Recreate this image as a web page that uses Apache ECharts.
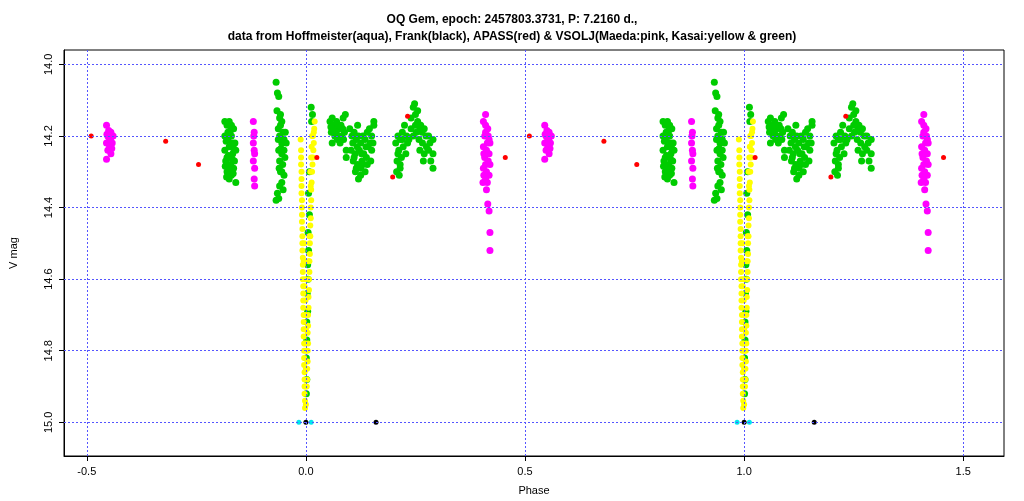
<!DOCTYPE html><html><head><meta charset="utf-8"><script src="https://cdn.jsdelivr.net/npm/echarts@6/dist/echarts.min.js"></script></head><body style="margin:0"><div id="c" style="width:1024px;height:501px"></div><script>
const xTicks=[-0.5,0,0.5,1,1.5];
const yTicks=[14.0,14.2,14.4,14.6,14.8,15.0];
// one cycle of data (phase, V mag); plotted again at phase+1
const greenPts=[
[-0.185,14.16],[-0.18,14.17],[-0.175,14.16],[-0.17,14.17],[-0.165,14.18],[-0.185,14.2],[-0.178,14.21],[-0.17,14.2],[-0.162,14.22],[-0.185,14.24],[-0.175,14.23],[-0.167,14.25],[-0.16,14.24],[-0.183,14.27],[-0.172,14.28],[-0.163,14.27],[-0.18,14.3],[-0.17,14.31],[-0.165,14.29],[-0.175,14.32],[-0.16,14.33],[-0.178,14.19],[-0.168,14.22],[-0.18,14.26],[-0.172,14.185],[-0.182,14.215],[-0.165,14.235],[-0.177,14.255],[-0.168,14.265],[-0.184,14.285],[-0.176,14.295],[-0.166,14.305],[-0.181,14.315],
[-0.068,14.05],[-0.065,14.08],[-0.062,14.09],[-0.066,14.13],[-0.06,14.15],[-0.055,14.16],[-0.063,14.18],[-0.052,14.19],[-0.06,14.2],[-0.055,14.22],[-0.05,14.21],[-0.062,14.24],[-0.055,14.25],[-0.05,14.24],[-0.06,14.27],[-0.053,14.28],[-0.058,14.3],[-0.05,14.31],[-0.055,14.33],[-0.06,14.34],[-0.052,14.35],[-0.065,14.36],[-0.068,14.38],[-0.062,14.375],[-0.045,14.22],[-0.047,14.19],[-0.058,14.17],[-0.063,14.21],[-0.057,14.235],[-0.048,14.26],[-0.061,14.29],[-0.055,14.3],[-0.058,14.14],
[0.012,14.12],[0.015,14.14],[0.013,14.16],
[0.055,14.16],[0.06,14.15],[0.065,14.17],[0.07,14.16],[0.075,14.18],[0.08,14.17],[0.085,14.15],[0.058,14.19],[0.066,14.2],[0.072,14.21],[0.082,14.2],[0.088,14.19],[0.06,14.22],[0.078,14.22],[0.09,14.14],[0.092,14.24],[0.092,14.26],[0.063,14.185],[0.069,14.19],[0.076,14.2],[0.084,14.18],[0.057,14.175],[0.073,14.17],[0.086,14.21],
[0.1,14.18],[0.105,14.2],[0.11,14.19],[0.115,14.21],[0.12,14.2],[0.125,14.22],[0.13,14.2],[0.135,14.21],[0.14,14.19],[0.145,14.18],[0.15,14.2],[0.155,14.17],[0.103,14.24],[0.112,14.25],[0.122,14.24],[0.132,14.25],[0.142,14.23],[0.15,14.24],[0.108,14.27],[0.118,14.28],[0.128,14.27],[0.138,14.26],[0.148,14.27],[0.113,14.3],[0.125,14.29],[0.135,14.3],[0.12,14.32],[0.118,14.17],[0.155,14.16],[0.107,14.22],[0.117,14.23],[0.127,14.25],[0.137,14.23],[0.147,14.22],[0.153,14.22],[0.11,14.26],[0.13,14.28],[0.14,14.28],[0.115,14.29],[0.125,14.31],
[0.205,14.22],[0.21,14.2],[0.215,14.21],[0.22,14.19],[0.225,14.17],[0.23,14.2],[0.212,14.24],[0.222,14.23],[0.232,14.22],[0.208,14.27],[0.218,14.26],[0.228,14.25],[0.215,14.29],[0.207,14.3],[0.213,14.31],[0.24,14.15],[0.245,14.12],[0.25,14.14],[0.248,14.11],[0.255,14.16],[0.26,14.18],[0.245,14.2],[0.252,14.19],[0.262,14.17],[0.27,14.18],[0.258,14.21],[0.266,14.22],[0.274,14.2],[0.28,14.2],[0.26,14.24],[0.27,14.25],[0.28,14.24],[0.29,14.21],[0.29,14.25],[0.285,14.27],[0.29,14.29],[0.24,14.18],[0.235,14.21],[0.21,14.25],[0.22,14.21],[0.215,14.28],[0.25,14.17],[0.255,14.13],[0.265,14.19],[0.275,14.23],[0.283,14.22],[0.268,14.27],
[0.008,14.3],[0.006,14.36],[0.008,14.42],[0.005,14.47],[0.006,14.52],[0.004,14.56],[0.005,14.6],[0.003,14.64],[0.004,14.69],[0.002,14.72],[0.002,14.77],[0.001,14.82],[0.002,14.88],[0.001,14.92]
];
const yellowPts=[
[-0.012,14.21],[-0.011,14.24],[-0.011,14.28],[-0.01,14.32],[-0.01,14.36],[-0.009,14.4],[-0.009,14.44],[-0.008,14.48],[-0.008,14.52],[-0.007,14.56],[-0.007,14.6],[-0.006,14.64],[-0.006,14.68],[-0.005,14.72],[-0.005,14.76],[-0.004,14.8],[-0.004,14.84],[-0.003,14.88],[-0.003,14.92],[-0.002,14.96],
[-0.011,14.26],[-0.01,14.3],[-0.01,14.34],[-0.009,14.38],[-0.009,14.42],[-0.008,14.46],[-0.008,14.5],[-0.007,14.54],[-0.007,14.58],[-0.006,14.62],[-0.006,14.66],[-0.005,14.7],[-0.005,14.74],[-0.004,14.78],[-0.004,14.82],[-0.003,14.86],[-0.003,14.9],[-0.002,14.94],
[-0.004,14.5],[-0.005,14.55],[-0.003,14.62],[-0.002,14.7],[-0.001,14.78],[0.0,14.85],[-0.001,14.9],[0.0,14.95],[-0.002,14.6],[-0.001,14.66],[0.0,14.74],[0.0,14.8],
[0.002,14.9],[0.003,14.85],[0.004,14.8],[0.004,14.75],[0.005,14.7],[0.006,14.65],[0.007,14.6],[0.008,14.55],[0.009,14.5],[0.01,14.45],[0.011,14.4],[0.012,14.35],[0.014,14.3],[0.016,14.26],[0.018,14.22],[0.019,14.18],[0.02,14.16],[0.01,14.3],[0.012,14.26],[0.014,14.2],[0.006,14.55],[0.008,14.48],
[0.003,14.88],[0.004,14.83],[0.005,14.78],[0.005,14.73],[0.006,14.68],[0.007,14.63],[0.008,14.58],[0.009,14.53],[0.01,14.48],[0.011,14.43],[0.012,14.38],[0.013,14.33],[0.015,14.28],[0.017,14.24],[0.011,14.34],[0.013,14.23],[0.016,14.2],[0.018,14.19]
];
const magentaPts=[
[-0.455,14.17],[-0.45,14.185],[-0.445,14.19],[-0.452,14.2],[-0.446,14.21],[-0.44,14.2],[-0.455,14.22],[-0.448,14.23],[-0.442,14.22],[-0.452,14.24],[-0.445,14.25],[-0.455,14.265],[-0.449,14.205],[-0.443,14.235],[-0.454,14.195],
[-0.12,14.16],[-0.118,14.19],[-0.12,14.22],[-0.117,14.25],[-0.12,14.27],[-0.117,14.29],[-0.118,14.32],[-0.117,14.34],[-0.119,14.2],[-0.118,14.24],
[0.405,14.16],[0.41,14.14],[0.415,14.18],[0.408,14.2],[0.418,14.21],[0.405,14.23],[0.412,14.24],[0.42,14.22],[0.408,14.26],[0.416,14.27],[0.405,14.29],[0.412,14.3],[0.42,14.28],[0.41,14.32],[0.404,14.33],[0.418,14.31],[0.412,14.35],[0.415,14.39],[0.418,14.41],[0.42,14.47],[0.42,14.52],
[0.41,14.19],[0.416,14.2],[0.406,14.25],[0.414,14.22],[0.41,14.28],[0.418,14.25],[0.406,14.31],[0.414,14.33],[0.41,14.17]
];
const redPts=[[-0.49,14.2],[-0.32,14.215],[-0.245,14.28],[0.025,14.26],[0.198,14.315],[0.232,14.145],[0.455,14.26]];
const aquaPts=[[-0.016,15.0],[0.012,15.0]];
const blackPts=[[0.0,15.0],[0.16,15.0]];
const twice=a=>a.concat(a.map(p=>[p[0]+1,p[1]]));
const mk=(d,c,s)=>({type:'scatter',data:twice(d),symbolSize:s,itemStyle:{color:c,opacity:1},silent:true});
const gridLines={type:'scatter',data:[],silent:true,markLine:{symbol:'none',silent:true,animation:false,label:{show:false},lineStyle:{color:'#5555ff',type:[2,2],width:1},data:xTicks.map(v=>({xAxis:v})).concat(yTicks.map(v=>({yAxis:v})))}};
const chart=echarts.init(document.getElementById('c'));
chart.setOption({animation:false,backgroundColor:'#fff',
title:{text:'OQ Gem, epoch: 2457803.3731, P: 7.2160 d.,\ndata from Hoffmeister(aqua), Frank(black), APASS(red) & VSOLJ(Maeda:pink, Kasai:yellow & green)',left:'center',top:6,textStyle:{fontSize:12,fontWeight:'bold',lineHeight:17,fontFamily:'Liberation Sans',color:'#000'}},
grid:{left:62,right:20,top:50,bottom:43,show:true,borderColor:'#000',borderWidth:1},
xAxis:{type:'value',min:-0.552,max:1.593,name:'Phase',nameLocation:'middle',nameGap:29,nameTextStyle:{fontSize:11,fontFamily:'Liberation Sans'},
 axisLine:{show:true,onZero:false,lineStyle:{color:'#000'}},axisTick:{show:true,customValues:xTicks,length:5,lineStyle:{color:'#000'}},splitLine:{show:false},
 axisLabel:{customValues:xTicks,color:'#000',fontSize:11,fontFamily:'Liberation Sans',margin:10,formatter:v=>v.toFixed(1)}},
yAxis:{type:'value',inverse:true,min:13.96,max:15.094,name:'V mag',nameLocation:'middle',nameGap:45,nameTextStyle:{fontSize:11,fontFamily:'Liberation Sans'},
 axisLine:{show:true,onZero:false,lineStyle:{color:'#000'}},axisTick:{show:true,customValues:yTicks,length:5,lineStyle:{color:'#000'}},splitLine:{show:false},
 axisLabel:{customValues:yTicks,rotate:90,color:'#000',fontSize:11,fontFamily:'Liberation Sans',margin:10,formatter:v=>v.toFixed(1)}},
series:[gridLines,mk(greenPts,'#00cc00',7),mk(yellowPts,'#ffff00',6),mk(magentaPts,'#ff00ff',7),mk(redPts,'#ff0000',5),mk(aquaPts,'#00e5ee',5),mk(blackPts,'#000',5)]
});
</script></body></html>
